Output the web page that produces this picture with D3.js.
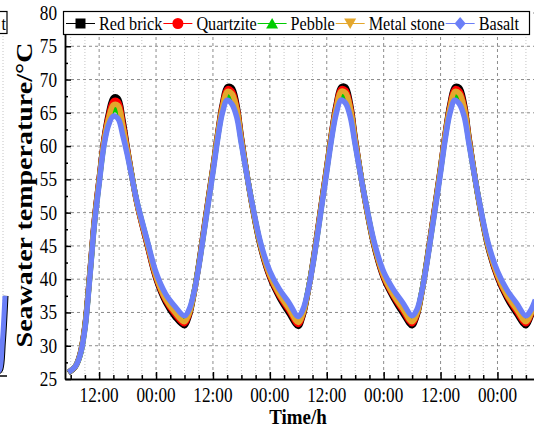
<!DOCTYPE html>
<html>
<head>
<meta charset="utf-8">
<script src="https://cdn.jsdelivr.net/npm/d3@7"></script>
<style>
  body { margin: 0; background: #fff; }
  svg { display: block; }
</style>
</head>
<body>
<div id="chart"></div>
<script>
// time in hours (0 = 00:00 of the first day)
const times = [5.5, 7, 8, 9, 10, 11, 12, 13, 14, 15, 16, 17, 18, 20, 22, 24, 26, 28,
  30, 31, 32, 33, 34, 35, 36, 37, 38, 39, 40, 41, 42, 44, 46, 48, 50, 52,
  54, 55, 56, 57, 58, 59, 60, 61, 62, 63, 64, 65, 66, 68, 70, 72, 74, 76,
  78, 79, 80, 81, 82, 83, 84, 85, 86, 87, 88, 89, 90, 92, 94, 96, 98, 100,
  102, 103, 104];

const redBrick = [25.9, 26.9, 28.8, 33.0, 40.6, 48.9, 55.1, 61.0, 65.0, 67.3, 67.2, 64.0, 59.5, 51.3, 45.5, 40.0, 36.5, 34.3,
  33.0, 34.5, 37.8, 42.2, 47.1, 52.0, 56.8, 61.9, 66.4, 68.9, 68.8, 66.4, 61.3, 52.1, 44.9, 40.2, 37.2, 34.9,
  32.9, 34.5, 37.9, 42.2, 47.0, 52.0, 56.9, 61.9, 66.3, 68.9, 68.9, 66.3, 61.2, 52.1, 44.9, 40.1, 37.2, 34.9,
  33.0, 34.4, 37.8, 42.3, 47.1, 51.9, 56.8, 62.0, 66.4, 68.9, 68.8, 66.4, 61.3, 52.0, 44.8, 40.2, 37.1, 34.8,
  33.0, 34.3, 36.5];

const quartzite = [26.0, 26.9, 28.7, 32.9, 40.5, 48.8, 55.0, 60.8, 64.6, 66.8, 66.7, 63.5, 59.3, 51.3, 45.6, 40.2, 36.8, 34.7,
  33.3, 34.7, 37.9, 42.1, 47.0, 51.9, 56.7, 61.8, 66.1, 68.6, 68.3, 66.0, 61.1, 52.2, 45.1, 40.4, 37.5, 35.3,
  33.2, 34.7, 38.0, 42.1, 46.9, 51.9, 56.8, 61.8, 66.0, 68.6, 68.4, 65.9, 61.0, 52.2, 45.1, 40.3, 37.5, 35.3,
  33.3, 34.6, 37.9, 42.2, 47.0, 51.8, 56.7, 61.9, 66.1, 68.6, 68.3, 66.0, 61.1, 52.1, 45.0, 40.4, 37.4, 35.2,
  33.3, 34.5, 36.5];

const pebble = [26.0, 26.9, 28.6, 32.7, 40.2, 48.4, 54.6, 60.3, 63.8, 65.5, 65.3, 62.5, 58.9, 51.5, 46.0, 40.6, 37.2, 35.2,
  33.8, 35.0, 38.0, 42.0, 46.7, 51.6, 56.4, 61.4, 65.5, 67.6, 67.2, 65.2, 60.7, 52.3, 45.3, 40.8, 37.9, 35.8,
  33.7, 35.0, 38.1, 42.0, 46.6, 51.6, 56.5, 61.4, 65.4, 67.6, 67.3, 65.1, 60.6, 52.3, 45.3, 40.7, 37.9, 35.8,
  33.8, 34.9, 38.0, 42.1, 46.7, 51.5, 56.4, 61.5, 65.5, 67.6, 67.2, 65.2, 60.7, 52.2, 45.2, 40.8, 37.8, 35.7,
  33.8, 34.8, 36.7];

const metalStone = [26.0, 26.9, 28.7, 32.8, 40.3, 48.6, 54.8, 60.6, 64.2, 66.2, 66.1, 63.0, 59.1, 51.4, 45.8, 40.4, 37.0, 35.0,
  33.6, 34.9, 37.9, 42.0, 46.8, 51.7, 56.5, 61.6, 65.8, 68.2, 67.9, 65.7, 60.9, 52.2, 45.2, 40.6, 37.7, 35.6,
  33.5, 34.9, 38.0, 42.0, 46.7, 51.7, 56.6, 61.6, 65.7, 68.2, 68.0, 65.6, 60.8, 52.2, 45.2, 40.5, 37.7, 35.6,
  33.6, 34.8, 37.9, 42.1, 46.8, 51.6, 56.5, 61.7, 65.8, 68.2, 67.9, 65.7, 60.9, 52.1, 45.1, 40.6, 37.6, 35.5,
  33.6, 34.7, 36.6];

const basalt = [26.0, 26.9, 28.6, 32.5, 40.0, 48.2, 54.3, 60.0, 63.2, 64.5, 64.1, 61.6, 58.5, 51.6, 46.2, 41.0, 37.8, 35.9,
  34.5, 35.5, 38.0, 41.8, 46.5, 51.3, 56.0, 61.0, 65.0, 66.9, 66.3, 64.4, 60.3, 52.4, 45.6, 41.2, 38.5, 36.5,
  34.4, 35.5, 38.1, 41.8, 46.4, 51.3, 56.1, 61.0, 64.9, 66.9, 66.4, 64.3, 60.2, 52.4, 45.6, 41.1, 38.5, 36.5,
  34.5, 35.4, 38.0, 41.9, 46.5, 51.2, 56.0, 61.1, 65.0, 66.9, 66.3, 64.4, 60.3, 52.3, 45.5, 41.2, 38.4, 36.4,
  34.5, 35.3, 36.9];

const seriesNames = ["Red brick", "Quartzite", "Pebble", "Metal stone", "Basalt"];
const seriesValues = [redBrick, quartzite, pebble, metalStone, basalt];
const seriesColors = ["#000000", "#ff0000", "#00cc00", "#e4a72c", "#6b7ff7"];
const seriesMarkers = ["square", "circle", "up", "down", "diamond"];

const yTicks = [25, 30, 35, 40, 45, 50, 55, 60, 65, 70, 75, 80];
const xLabelTimes = [12, 24, 36, 48, 60, 72, 84, 96];
const xLabels = ["12:00", "00:00", "12:00", "00:00", "12:00", "00:00", "12:00", "00:00"];

// bit of the neighbouring panel that shows at the left edge
const nbTimes = [0, 1, 2, 3];
const nbBasalt = [26.0, 26.4, 30.5, 37.5];

const W = 534, H = 430;
const SX = 0.86; // glyphs in the picture are a bit narrow

const svg = d3.select("#chart").append("svg")
  .attr("width", W).attr("height", H)
  .style("font-family", "'Liberation Serif', 'Times New Roman', serif");

const x = d3.scaleLinear().domain([4.8, 106]).range([65, 65 + (106 - 4.8) * 4.742]);
const y = d3.scaleLinear().domain([25, 80]).range([379, 13]);

svg.append("clipPath").attr("id", "plot-clip")
  .append("rect").attr("x", 65).attr("y", 13).attr("width", W - 65).attr("height", 366);

// grid
const grid = svg.append("g");
const minorTimes = d3.range(6, 106, 3);
grid.selectAll("line.vgrid")
  .data(minorTimes)
  .join("line")
  .attr("class", "vgrid")
  .attr("x1", d => x(d)).attr("x2", d => x(d))
  .attr("y1", y(80)).attr("y2", y(25))
  .attr("stroke", d => d % 12 === 0 ? "#8c8c8c" : "#c4c4c4")
  .attr("stroke-width", 1)
  .attr("stroke-dasharray", d => d % 12 === 0 ? "3,3" : "1,2");

grid.selectAll("line.hgrid")
  .data(yTicks.filter(v => v > 25))
  .join("line")
  .attr("class", "hgrid")
  .attr("x1", 65).attr("x2", W)
  .attr("y1", d => y(d)).attr("y2", d => y(d))
  .attr("stroke", "#8c8c8c")
  .attr("stroke-dasharray", "3,3");

// curves
const line = d3.line()
  .x((d, i) => x(times[i]))
  .y(d => y(d))
  .curve(d3.curveCatmullRom.alpha(0.5));

svg.append("g").attr("clip-path", "url(#plot-clip)")
  .selectAll("path.series")
  .data(seriesValues)
  .join("path")
  .attr("class", "series")
  .attr("d", d => line(d))
  .attr("fill", "none")
  .attr("stroke", (d, i) => seriesColors[i])
  .attr("stroke-width", 5.5)
  .attr("stroke-linejoin", "round");

// axes (ticks point inwards)
const xMinor = d3.axisBottom(x).tickValues(minorTimes.filter(d => d % 12 !== 0))
  .tickSize(-4).tickSizeOuter(0).tickFormat("");
const xMajor = d3.axisBottom(x).tickValues(xLabelTimes)
  .tickSize(-7).tickSizeOuter(0).tickFormat("");
const gx1 = svg.append("g").attr("transform", `translate(0,${y(25)})`).call(xMinor);
const gx2 = svg.append("g").attr("transform", `translate(0,${y(25)})`).call(xMajor);
[gx1, gx2].forEach(g => {
  g.selectAll("line").attr("stroke", "#000").attr("stroke-width", 1.5);
  g.select(".domain").attr("stroke", "#000").attr("stroke-width", 1.5);
});

const yMinor = d3.axisLeft(y).tickValues(d3.range(27.5, 80, 5))
  .tickSize(-3).tickSizeOuter(0).tickFormat("");
const yMajor = d3.axisLeft(y).tickValues(yTicks)
  .tickSize(-6).tickSizeOuter(0).tickFormat("");
const gy1 = svg.append("g").attr("transform", "translate(65,0)").call(yMinor);
const gy2 = svg.append("g").attr("transform", "translate(65,0)").call(yMajor);
[gy1, gy2].forEach(g => {
  g.selectAll("line").attr("stroke", "#000").attr("stroke-width", 1.5);
  g.select(".domain").attr("stroke", "#000").attr("stroke-width", 1.5);
});

// tick labels
svg.selectAll("text.ylab")
  .data(yTicks)
  .join("text")
  .attr("class", "ylab")
  .attr("transform", d => `translate(57,${y(d) + 7}) scale(${SX},1)`)
  .attr("text-anchor", "end")
  .attr("font-size", 20)
  .text(d => d);

svg.selectAll("text.xlab")
  .data(xLabelTimes)
  .join("text")
  .attr("class", "xlab")
  .attr("transform", d => `translate(${x(d)},402) scale(${SX},1)`)
  .attr("text-anchor", "middle")
  .attr("font-size", 20)
  .text((d, i) => xLabels[i]);

// axis titles
svg.append("text")
  .attr("transform", `translate(298,424) scale(${SX},1)`)
  .attr("text-anchor", "middle")
  .attr("font-size", 22)
  .attr("font-weight", "bold")
  .text("Time/h");

svg.append("text")
  .attr("transform", `translate(32,195) scale(${SX},1) rotate(-90)`)
  .attr("text-anchor", "middle")
  .attr("font-size", 28)
  .attr("font-weight", "bold")
  .text("Seawater temperature/°C");

// legend
const lg = svg.append("g");
lg.append("rect")
  .attr("x", 63.5).attr("y", 11.5).attr("width", 466).attr("height", 23)
  .attr("fill", "#fff").attr("stroke", "#000").attr("stroke-width", 1.2);

function markerPath(kind) {
  if (kind === "square") return d3.symbol(d3.symbolSquare, 100)();
  if (kind === "circle") return d3.symbol(d3.symbolCircle, 95)();
  if (kind === "up") return "M0,-5.5L6,5L-6,5Z";
  if (kind === "down") return "M0,5.5L6,-5L-6,-5Z";
  return "M0,-6.5L5.5,0L0,6.5L-5.5,0Z";
}

let cx = 66;
const ly = 23.5;
seriesNames.forEach((name, i) => {
  lg.append("line")
    .attr("x1", cx).attr("x2", cx + 29).attr("y1", ly).attr("y2", ly)
    .attr("stroke", seriesColors[i]).attr("stroke-width", 1);
  lg.append("path")
    .attr("d", markerPath(seriesMarkers[i]))
    .attr("transform", `translate(${cx + 14.5},${ly})`)
    .attr("fill", seriesColors[i]);
  const t = lg.append("text")
    .attr("transform", `translate(${cx + 33},30) scale(0.9,1)`)
    .attr("font-size", 18)
    .text(name);
  cx = cx + 33 + t.node().getComputedTextLength() * 0.9 + 1;
});

// fragment of the panel on the left
const nx = d3.scaleLinear().domain([0, 3]).range([-3, 5]);
const nb = svg.append("g");
nb.append("line").attr("x1", 3).attr("x2", 3).attr("y1", 36).attr("y2", 374)
  .attr("stroke", "#c4c4c4").attr("stroke-dasharray", "1,2");
nb.append("path")
  .attr("d", d3.line().x((d, i) => nx(nbTimes[i]) + 1).y(d => y(d)).curve(d3.curveCatmullRom)(nbBasalt))
  .attr("fill", "none").attr("stroke", "#000").attr("stroke-width", 5);
nb.append("path")
  .attr("d", d3.line().x((d, i) => nx(nbTimes[i])).y(d => y(d)).curve(d3.curveCatmullRom)(nbBasalt))
  .attr("fill", "none").attr("stroke", "#6b7ff7").attr("stroke-width", 5);
nb.append("line").attr("x1", 0).attr("x2", 7).attr("y1", 376).attr("y2", 376)
  .attr("stroke", "#000").attr("stroke-width", 1.5);
nb.append("rect").attr("x", -60).attr("y", 11.5).attr("width", 67).attr("height", 22)
  .attr("fill", "#fff").attr("stroke", "#000").attr("stroke-width", 1.2);
nb.append("text").attr("transform", `translate(6,30) scale(0.9,1)`)
  .attr("text-anchor", "end").attr("font-size", 18).text("t");
</script>
</body>
</html>
